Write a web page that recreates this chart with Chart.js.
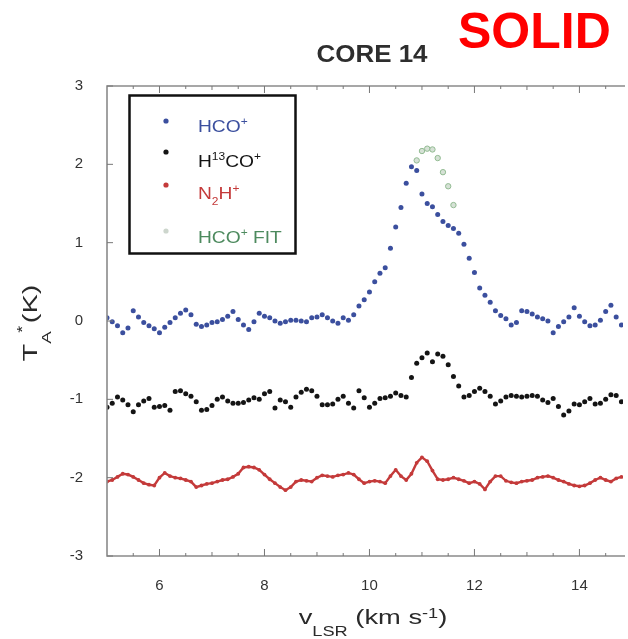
<!DOCTYPE html>
<html>
<head>
<meta charset="UTF-8">
<title>Core 14</title>
<script src="https://cdn.jsdelivr.net/npm/chart.js"></script>
<style>
  html, body { margin: 0; padding: 0; background: #fff; }
</style>
</head>
<body>
<canvas id="spec" width="628" height="639"></canvas>
<script>
// channel grid of the spectra (km/s)
const vStart = 5.0;
const vStep = 0.1;

// T_A* (K), offset spectra
const hcoValues = [
  0.04, -0.01, -0.06, -0.15, -0.09, 0.13, 0.05, -0.02, -0.06, -0.10,
  -0.15, -0.08, -0.02, 0.04, 0.10, 0.14, 0.08, -0.04, -0.07, -0.05,
  -0.02, -0.01, 0.02, 0.06, 0.12, 0.02, -0.05, -0.11, -0.01, 0.10,
  0.06, 0.04, 0.00, -0.03, -0.01, 0.01, 0.01, 0.00, -0.01, 0.04,
  0.05, 0.08, 0.04, 0.00, -0.03, 0.04, 0.01, 0.08, 0.19, 0.27,
  0.37, 0.50, 0.61, 0.68, 0.93, 1.20, 1.45, 1.76, 1.97, 1.92,
  1.62, 1.50, 1.46, 1.36, 1.27, 1.22, 1.18, 1.12, 0.98, 0.80,
  0.62, 0.42, 0.33, 0.24, 0.13, 0.07, 0.03, -0.05, -0.02, 0.13,
  0.12, 0.09, 0.05, 0.03, 0.00, -0.15, -0.07, -0.01, 0.05, 0.17,
  0.06, -0.01, -0.06, -0.05, 0.01, 0.12, 0.20, 0.05, -0.05
];
const h13coValues = [
  -1.10, -1.05, -0.97, -1.01, -1.07, -1.16, -1.07, -1.02, -0.99, -1.10,
  -1.09, -1.08, -1.14, -0.90, -0.89, -0.93, -0.96, -1.03, -1.14, -1.13,
  -1.08, -1.00, -0.97, -1.02, -1.05, -1.05, -1.04, -1.01, -0.98, -1.00,
  -0.93, -0.90, -1.11, -1.01, -1.03, -1.10, -0.97, -0.91, -0.87, -0.89,
  -0.96, -1.07, -1.07, -1.06, -1.00, -0.96, -1.05, -1.11, -0.89, -0.98,
  -1.10, -1.05, -0.99, -0.98, -0.96, -0.92, -0.95, -0.97, -0.72, -0.54,
  -0.47, -0.41, -0.52, -0.42, -0.45, -0.56, -0.71, -0.83, -0.97, -0.95,
  -0.90, -0.86, -0.90, -0.96, -1.06, -1.02, -0.97, -0.95, -0.96, -0.97,
  -0.96, -0.95, -0.96, -1.01, -1.04, -0.99, -1.09, -1.20, -1.15, -1.06,
  -1.07, -1.03, -0.99, -1.06, -1.05, -1.00, -0.94, -0.95, -1.03
];
const n2hValues = [
  -2.05, -2.03, -1.99, -1.95, -1.96, -1.99, -2.03, -2.07, -2.09, -2.10,
  -2.00, -1.94, -1.98, -2.00, -2.01, -2.03, -2.05, -2.12, -2.10, -2.08,
  -2.07, -2.05, -2.03, -2.02, -1.99, -1.95, -1.87, -1.86, -1.87, -1.90,
  -1.96, -2.02, -2.07, -2.12, -2.16, -2.12, -2.05, -2.03, -2.04, -2.05,
  -2.00, -1.97, -1.98, -1.99, -1.97, -1.96, -1.94, -1.96, -2.02, -2.07,
  -2.05, -2.04, -2.05, -2.07, -1.98, -1.90, -1.98, -2.03, -1.95, -1.81,
  -1.74, -1.79, -1.91, -2.02, -2.03, -2.02, -2.00, -2.02, -2.04, -2.07,
  -2.05, -2.08, -2.15, -2.05, -1.98, -1.98, -2.04, -2.06, -2.07, -2.05,
  -2.04, -2.03, -2.00, -1.99, -1.98, -2.00, -2.03, -2.05, -2.08, -2.10,
  -2.11, -2.10, -2.07, -2.03, -2.00, -2.03, -2.05, -2.01, -1.99
];

// HCO+ fit, only drawn over the peak
const fitVel = [10.9, 11.0, 11.1, 11.2, 11.3, 11.4, 11.5, 11.6];
const fitValues = [2.05, 2.17, 2.20, 2.19, 2.08, 1.90, 1.72, 1.48];

const xTicks = [6, 8, 10, 12, 14];
const yTicks = [-3, -2, -1, 0, 1, 2, 3];

const toPoints = vals => vals.map((y, i) => ({ x: +(vStart + i * vStep).toFixed(2), y: y }));

const BLUE = "#3b4f9e";
const RED = "#c43a3a";
const BLACK = "#141414";

// text with sub/superscripts: [text, 0 | 1 (sup) | -1 (sub)]
// the figure's lettering is wide, so text is stretched along the line by sx
function richWidth(ctx, segs, o) {
  let w = 0;
  segs.forEach(s => {
    ctx.font = `${o.weight || "normal"} ${s[1] ? o.small : o.size}px Arial`;
    w += ctx.measureText(s[0]).width;
  });
  return w * o.sx;
}
function drawRich(ctx, segs, x, y, o) {
  ctx.save();
  ctx.translate(x, y);
  ctx.scale(o.sx, 1);
  ctx.fillStyle = o.color;
  ctx.textBaseline = "alphabetic";
  ctx.textAlign = "left";
  let cx = 0;
  segs.forEach(s => {
    ctx.font = `${o.weight || "normal"} ${s[1] ? o.small : o.size}px Arial`;
    const dy = s[1] === 1 ? -o.up : s[1] === -1 ? o.down : 0;
    ctx.fillText(s[0], cx, dy);
    cx += ctx.measureText(s[0]).width;
  });
  ctx.restore();
}

const legendItems = [
  { segs: [["HCO", 0], ["+", 1]], color: BLUE, text: BLUE, dot: 121, base: 132 },
  { segs: [["H", 0], ["13", 1], ["CO", 0], ["+", 1]], color: BLACK, text: BLACK, dot: 152, base: 167 },
  { segs: [["N", 0], ["2", -1], ["H", 0], ["+", 1]], color: RED, text: RED, dot: 185, base: 199 },
  { segs: [["HCO", 0], ["+", 1], [" FIT", 0]], color: "#cdd6cd", text: "#4d8a5e", dot: 231, base: 243 }
];

const decorations = {
  id: "decorations",
  afterDatasetsDraw(chart) {
    const ctx = chart.ctx;
    const a = chart.chartArea;
    const xs = chart.scales.x, ys = chart.scales.y;
    ctx.save();

    // frame
    ctx.strokeStyle = "#8a8a8a";
    ctx.lineWidth = 1.6;
    ctx.beginPath();
    ctx.moveTo(a.right + 2, a.top);
    ctx.lineTo(a.left, a.top);
    ctx.lineTo(a.left, a.bottom);
    ctx.lineTo(a.right + 2, a.bottom);
    ctx.stroke();

    // inward ticks
    ctx.lineWidth = 1;
    ctx.strokeStyle = "#777";
    ctx.beginPath();
    for (let v = 5.5; v < xs.max; v += 0.5) {
      const px = xs.getPixelForValue(v);
      const len = xTicks.includes(v) ? 7 : (v % 1 === 0 ? 4 : 3);
      ctx.moveTo(px, a.bottom); ctx.lineTo(px, a.bottom - len);
      ctx.moveTo(px, a.top); ctx.lineTo(px, a.top + len);
    }
    yTicks.forEach(v => {
      const py = ys.getPixelForValue(v);
      ctx.moveTo(a.left, py); ctx.lineTo(a.left + 6, py);
    });
    ctx.stroke();

    // title and stamp
    const tOpt = { size: 24, small: 24, sx: 1.08, weight: "bold", color: "#2e2e2e", up: 0, down: 0 };
    const tSegs = [["CORE 14", 0]];
    drawRich(ctx, tSegs, 372 - richWidth(ctx, tSegs, tOpt) / 2, 62, tOpt);
    ctx.fillStyle = "#ff0000";
    ctx.font = "bold 50px Arial";
    ctx.textAlign = "left";
    ctx.textBaseline = "alphabetic";
    ctx.fillText("SOLID", 458, 48);

    // x axis title
    const xOpt = { size: 21, small: 14, sx: 1.3, color: "#2a2a2a", up: 6, down: 12 };
    const xt = [["v", 0], ["LSR", -1], [" (km s", 0], ["-1", 1], [")", 0]];
    drawRich(ctx, xt, 373 - richWidth(ctx, xt, xOpt) / 2, 624, xOpt);

    // y axis title, rotated
    ctx.save();
    ctx.translate(37, 323);
    ctx.rotate(-Math.PI / 2);
    const yOpt = { size: 20, small: 13, sx: 1.45, color: "#2a2a2a", up: 0, down: 14 };
    const yt = [["T", 0], ["A", -1], [" (K)", 0]];
    const x0 = -richWidth(ctx, yt, yOpt) / 2;
    drawRich(ctx, yt, x0, 0, yOpt);
    ctx.font = "normal 20px Arial";
    const tw = ctx.measureText("T").width * yOpt.sx;
    drawRich(ctx, [["*", 0]], x0 + tw + 11, -10, { size: 15, small: 15, sx: 1.2, color: "#2a2a2a", up: 0, down: 0 });
    ctx.restore();

    // legend
    ctx.fillStyle = "#fff";
    ctx.fillRect(129, 95, 167, 159);
    ctx.strokeStyle = "#111";
    ctx.lineWidth = 2.5;
    ctx.strokeRect(129.5, 95.5, 166, 158);
    const lOpt = { size: 16, small: 10, sx: 1.2, color: "#000", up: 7, down: 6 };
    legendItems.forEach(it => {
      ctx.beginPath();
      ctx.arc(166, it.dot, 2.6, 0, Math.PI * 2);
      ctx.fillStyle = it.color;
      ctx.fill();
      lOpt.color = it.text;
      drawRich(ctx, it.segs, 198, it.base, lOpt);
    });

    ctx.restore();
  }
};

new Chart(document.getElementById("spec").getContext("2d"), {
  type: "scatter",
  data: {
    datasets: [
      {
        label: "HCO+",
        data: toPoints(hcoValues),
        backgroundColor: BLUE,
        borderColor: BLUE,
        pointRadius: 2.5,
        pointBorderWidth: 0
      },
      {
        label: "H13CO+",
        data: toPoints(h13coValues),
        backgroundColor: BLACK,
        borderColor: BLACK,
        pointRadius: 2.5,
        pointBorderWidth: 0
      },
      {
        label: "N2H+",
        data: toPoints(n2hValues),
        backgroundColor: RED,
        borderColor: RED,
        showLine: true,
        borderWidth: 2.4,
        pointRadius: 1.9,
        pointBorderWidth: 0
      },
      {
        label: "HCO+ FIT",
        data: fitVel.map((v, i) => ({ x: v, y: fitValues[i] })),
        backgroundColor: "rgba(210,222,210,0.9)",
        borderColor: "#92bb92",
        pointRadius: 2.7,
        pointBorderWidth: 1
      }
    ]
  },
  options: {
    responsive: false,
    animation: false,
    layout: { padding: { top: 86, right: 0, left: 0, bottom: 0 } },
    plugins: {
      legend: { display: false },
      tooltip: { enabled: false }
    },
    scales: {
      x: {
        type: "linear",
        min: 5,
        max: 14.83,
        grid: { display: false },
        border: { display: false },
        afterBuildTicks: s => { s.ticks = xTicks.map(v => ({ value: v })); },
        afterFit: s => { s.height = 83; },
        ticks: { color: "#333", font: { family: "Arial", size: 15 }, padding: 13, maxRotation: 0 }
      },
      y: {
        min: -3,
        max: 3,
        grid: { display: false },
        border: { display: false },
        afterBuildTicks: s => { s.ticks = yTicks.map(v => ({ value: v })); },
        afterFit: s => { s.width = 107; },
        ticks: { color: "#333", font: { family: "Arial", size: 15 }, padding: 16 }
      }
    }
  },
  plugins: [decorations]
});
</script>
</body>
</html>
